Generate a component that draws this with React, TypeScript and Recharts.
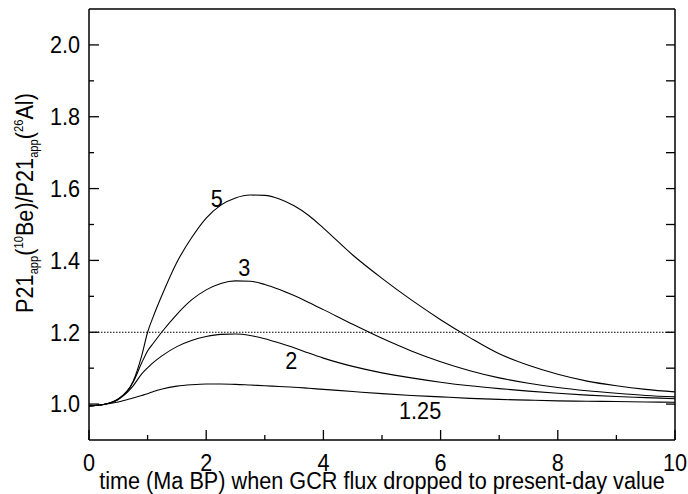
import React from 'react';
import { LineChart, Line, XAxis, YAxis, ReferenceLine, ReferenceDot } from 'recharts';

const T = [0, 0.25, 0.5, 0.75, 0.9, 1.0, 1.1, 1.25, 1.5, 1.75, 2.0, 2.25, 2.5, 2.75, 3.0, 3.25, 3.5, 3.75, 4.0, 4.5, 5.0, 5.5, 6.0, 6.5, 7.0, 7.5, 8.0, 8.5, 9.0, 9.5, 10];
const C5 = [0.995, 0.999, 1.014, 1.062, 1.135, 1.2, 1.245, 1.305, 1.395, 1.463, 1.518, 1.554, 1.574, 1.582, 1.581, 1.571, 1.552, 1.525, 1.49, 1.415, 1.35, 1.29, 1.235, 1.185, 1.14, 1.108, 1.083, 1.064, 1.051, 1.041, 1.034];
const C3 = [0.995, 0.999, 1.014, 1.06, 1.115, 1.148, 1.17, 1.202, 1.25, 1.29, 1.318, 1.336, 1.343, 1.342, 1.333, 1.319, 1.302, 1.283, 1.263, 1.222, 1.183, 1.148, 1.118, 1.093, 1.073, 1.058, 1.046, 1.037, 1.03, 1.024, 1.02];
const C2 = [0.995, 0.999, 1.013, 1.05, 1.084, 1.101, 1.116, 1.135, 1.16, 1.177, 1.188, 1.194, 1.195, 1.191, 1.182, 1.17, 1.157, 1.142, 1.128, 1.105, 1.087, 1.073, 1.061, 1.051, 1.043, 1.036, 1.03, 1.025, 1.021, 1.018, 1.015];
const C125 = [0.995, 0.999, 1.006, 1.017, 1.024, 1.029, 1.035, 1.042, 1.05, 1.054, 1.056, 1.056, 1.055, 1.053, 1.051, 1.049, 1.047, 1.044, 1.041, 1.035, 1.029, 1.024, 1.02, 1.016, 1.013, 1.011, 1.009, 1.008, 1.007, 1.006, 1.005];

const X_TICKS = [0, 1, 2, 3, 4, 5, 6, 7, 8, 9, 10];
const X_LABELED = [0, 2, 4, 6, 8, 10];
const Y_TICKS = [1.0, 1.1, 1.2, 1.3, 1.4, 1.5, 1.6, 1.7, 1.8, 1.9, 2.0];
const Y_LABELED = ['1.0', '1.2', '1.4', '1.6', '1.8', '2.0'];
const THRESHOLD = 1.2;

const CURVE_LABELS = [
  { t: 2.18, v: 1.572, text: '5' },
  { t: 2.65, v: 1.38, text: '3' },
  { t: 3.45, v: 1.12, text: '2' },
  { t: 5.65, v: 0.983, text: '1.25' },
];

const rows = T.map((t, i) => ({ t, c5: C5[i], c3: C3[i], c2: C2[i], c125: C125[i] }));

const FONT = '"Liberation Sans", Arial, Helvetica, sans-serif';
const FS = 23.3;
const SX = 0.93;
const X_MARGIN = 14;
const Y_MARGIN = 9;

const XTick = (p: any) => {
  const v = Number(p.payload.value);
  const major = X_LABELED.includes(v);
  const ay = p.y - X_MARGIN;
  return (
    <g>
      <line x1={p.x} x2={p.x} y1={ay} y2={ay - (major ? 10 : 5)} stroke="#000" strokeWidth={1.3} />
      {major && (
        <text transform={`translate(${p.x},${p.y}) scale(${SX},1)`} x={0} y={16.7} textAnchor="middle" fontSize={FS} fontFamily={FONT} fill="#000">
          {String(v)}
        </text>
      )}
    </g>
  );
};

const YTick = (p: any) => {
  const label = Number(p.payload.value).toFixed(1);
  const major = Y_LABELED.includes(label);
  const ax = p.x + Y_MARGIN;
  return (
    <g>
      <line x1={ax} x2={ax + (major ? 10 : 5)} y1={p.y} y2={p.y} stroke="#000" strokeWidth={1.3} />
      {major && (
        <text transform={`translate(${p.x},${p.y}) scale(${SX},1)`} x={0} y={0} dy="0.36em" textAnchor="end" fontSize={FS} fontFamily={FONT} fill="#000">
          {label}
        </text>
      )}
    </g>
  );
};

const RTick = (p: any) => (
  <line x1={p.x} x2={p.x - 9} y1={p.y} y2={p.y} stroke="#000" strokeWidth={1.3} />
);

const XTitle = (props: any) => {
  const vb = props && props.viewBox ? props.viewBox : { x: 89, y: 440, width: 586 };
  const cx = vb.x + vb.width / 2;
  return (
    <text transform={`translate(${cx},${vb.y + 49}) scale(${SX},1)`} textAnchor="middle" fontSize={FS} fontFamily={FONT} fill="#000">
      time (Ma BP) when GCR flux dropped to present-day value
    </text>
  );
};

const SMALL = 12;
const YTitle = () => (
  <text transform={`translate(33,203) rotate(-90) scale(${SX},1)`} textAnchor="middle" fontSize={FS} fontFamily={FONT} fill="#000">
    <tspan>P21</tspan>
    <tspan fontSize={SMALL} dy={5}>app</tspan>
    <tspan dy={-5}>(</tspan>
    <tspan fontSize={SMALL} dy={-10}>10</tspan>
    <tspan dy={10}>Be)/P21</tspan>
    <tspan fontSize={SMALL} dy={5}>app</tspan>
    <tspan dy={-5}>(</tspan>
    <tspan fontSize={SMALL} dy={-10}>26</tspan>
    <tspan dy={10}>Al)</tspan>
  </text>
);

const lineProps = {
  type: 'monotone' as const,
  stroke: '#000',
  strokeWidth: 1.1,
  dot: false,
  activeDot: false,
  isAnimationActive: false,
  xAxisId: 'x',
};

export default function App() {
  return (
    <div style={{ position: 'absolute', left: 0, top: 0, width: 688, height: 494, background: '#fff' }}>
      <LineChart width={688} height={494} data={rows} margin={{ top: 9, right: 0, bottom: 0, left: 0 }}>
        <XAxis xAxisId="x" dataKey="t" type="number" domain={[0, 10]} ticks={X_TICKS} allowDataOverflow interval={0}
          height={54} tickLine={false} tickSize={0} tickMargin={X_MARGIN}
          axisLine={{ stroke: '#000', strokeWidth: 1.5 }} tick={<XTick />} label={XTitle} />
        <XAxis xAxisId="xTop" orientation="top" type="number" domain={[0, 10]} ticks={X_LABELED} allowDataOverflow mirror
          tick={false} tickLine={false} axisLine={{ stroke: '#000', strokeWidth: 1.5 }} />
        <YAxis yAxisId="y" type="number" domain={[0.9, 2.1]} ticks={Y_TICKS} allowDataOverflow interval={0}
          width={89} tickLine={false} tickSize={0} tickMargin={Y_MARGIN}
          axisLine={{ stroke: '#000', strokeWidth: 1.5 }} tick={<YTick />} label={YTitle} />
        <YAxis yAxisId="yR" orientation="right" type="number" domain={[0.9, 2.1]} ticks={Y_TICKS} allowDataOverflow interval={0}
          width={13} tickLine={false} tickSize={0} tickMargin={0}
          axisLine={{ stroke: '#000', strokeWidth: 1.5 }} tick={<RTick />} />
        <ReferenceLine xAxisId="x" yAxisId="y" y={THRESHOLD} stroke="#000" strokeWidth={1} strokeDasharray="1.5 1.5" />
        <Line {...lineProps} yAxisId="yR" dataKey="c125" />
        <Line {...lineProps} yAxisId="y" dataKey="c2" />
        <Line {...lineProps} yAxisId="y" dataKey="c3" />
        <Line {...lineProps} yAxisId="y" dataKey="c5" />
        {CURVE_LABELS.map((l) => (
          <ReferenceDot key={l.text} xAxisId="x" yAxisId="y" x={l.t} y={l.v} r={3}
            shape={(p: any) => (
              <text transform={`translate(${p.cx},${p.cy}) scale(${SX},1)`} x={0} y={0} dy="0.36em" textAnchor="middle" fontSize={FS} fontFamily={FONT} fill="#000">
                {l.text}
              </text>
            )} />
        ))}
      </LineChart>
    </div>
  );
}
